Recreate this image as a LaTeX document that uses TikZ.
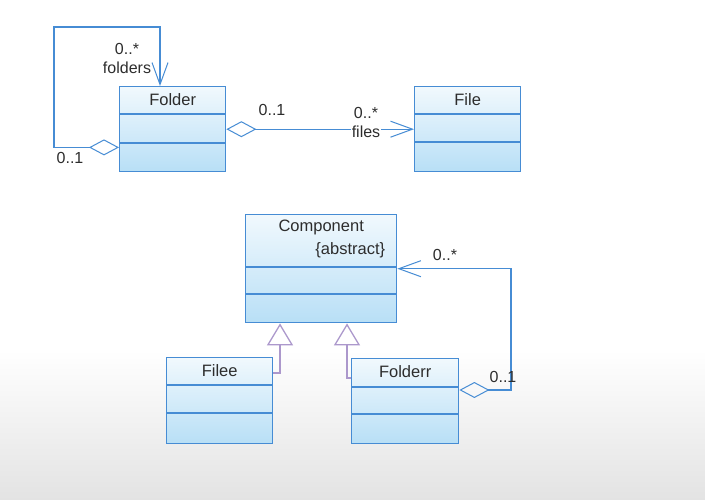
\documentclass[tikz,border=0pt]{standalone}
\usepackage{fontspec}
\setmainfont{Liberation Sans}
\usepackage{tikz}
\usetikzlibrary{arrows.meta}
\definecolor{umlline}{RGB}{70,140,212}
\definecolor{umlfill}{RGB}{184,223,246}
\definecolor{umltext}{RGB}{45,45,45}
\definecolor{umlgen}{RGB}{172,152,204}

\tikzset{
    classbox/.style={draw=umlline, line width=1.4pt, top color=umlfill!20!white, bottom color=umlfill,
        minimum width=106pt, minimum height=85pt, inner sep=0pt, anchor=north west},
    classname/.style={text=umltext, font=\fontsize{16.5}{18}\selectfont, inner sep=0pt},
    mult/.style={text=umltext, font=\fontsize{16}{18}\selectfont, inner sep=1pt},
    assoc/.style={draw=umlline, line width=1.3pt,
        {Diamond[open, length=30pt, width=16pt, line width=1pt]}-{Straight Barb[length=22pt, width=16pt, line width=1pt]}},
    gen/.style={draw=umlgen, line width=1.3pt, -{Triangle[open, length=22pt, width=26pt]}}
}

\begin{document}
\begin{tikzpicture}[x=1pt, y=-1pt]
    \useasboundingbox (0,0) rectangle (705,500);
    % Background fading to grey at the bottom
    \fill[white] (0,0) rectangle (705,350);
    \shade[top color=white, bottom color=black!11] (0,350) rectangle (705,500);

    % Class boxes
    \node[classbox] (folder) at (119,86) {};
    \node[classbox] (file) at (414,86) {};
    \node[classbox, minimum width=151pt, minimum height=108pt] (component) at (245,214) {};
    \node[classbox, minimum height=86pt] (filee) at (166,357) {};
    \node[classbox, minimum width=107pt, minimum height=85pt] (folderr) at (351,358) {};

    % Compartment lines
    \foreach \cls/\a/\b in {folder/28/57, file/28/56, component/53/80, filee/28/56, folderr/29/56} {
        \draw[umlline, line width=1.4pt] ([yshift=-\a pt]\cls.north west) -- ([yshift=-\a pt]\cls.north east);
        \draw[umlline, line width=1.4pt] ([yshift=-\b pt]\cls.north west) -- ([yshift=-\b pt]\cls.north east);
    }

    % Class names
    \node[classname] (folderName) at ([yshift=-14pt]folder.north) {Folder};
    \node[classname] (fileName) at ([yshift=-14pt]file.north) {File};
    \node[classname] (componentName) at ([yshift=-13pt]component.north) {Component};
    \node[classname, anchor=east] (componentAbs) at ([xshift=-12pt, yshift=-36pt]component.north east) {\{abstract\}};
    \node[classname] (fileeName) at ([yshift=-14pt]filee.north) {Filee};
    \node[classname] (folderrName) at ([yshift=-14pt]folderr.north) {Folderr};

    % Corner points of the connectors
    \coordinate (loopA) at (54,27);
    \coordinate (loopB) at (160,27);
    \coordinate (compLoop) at (511,390);

    % Associations
    \draw[assoc] ([yshift=25pt]folder.south west) -| (loopA) -- (loopB) -- (loopB |- folder.north);
    \draw[assoc] (folder.east) -- (file.west);
    \draw[assoc] ([yshift=-32pt]folderr.north east) -- (compLoop) |- (component.east);

    % Generalizations
    \draw[gen] ([yshift=-16pt]filee.north east) -| ([xshift=35pt]component.south west);
    \draw[gen] ([yshift=-20pt]folderr.north west) -| ([xshift=102pt]component.south west);

    % Multiplicities and role names
    \node[mult] (selfMany) at (127,49) {0..*};
    \node[mult] (selfRole) at (127,68) {folders};
    \node[mult] (selfOne) at (70,158) {0..1};
    \node[mult] (filesOne) at (272,110) {0..1};
    \node[mult] (filesMany) at (366,113) {0..*};
    \node[mult, fill=white] (filesRole) at (366,132) {files};
    \node[mult] (compMany) at (445,255) {0..*};
    \node[mult] (compOne) at (503,377) {0..1};
\end{tikzpicture}
\end{document}
